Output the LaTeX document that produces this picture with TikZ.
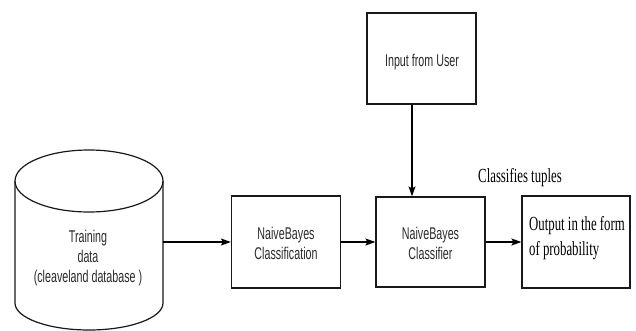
\documentclass[tikz,border=0pt]{standalone}
\usepackage{fontspec}
\usetikzlibrary{arrows.meta}
\newfontfamily\sqsans[FakeStretch=0.63]{Liberation Sans}
\newfontfamily\sqserif[FakeStretch=0.64]{Liberation Serif}
\definecolor{txtgray}{HTML}{2A2A2A}
\begin{document}
\begin{tikzpicture}[x=1pt,y=-1pt,
  box/.style={draw=black!90,line width=1.2pt,rectangle,inner sep=0pt},
  sanstxt/.style={align=center,text=txtgray,font=\sqsans\fontsize{17}{20}\selectfont,inner sep=0pt},
  seriftxt/.style={align=left,text=black,font=\sqserif\fontsize{20}{25}\selectfont,inner sep=0pt},
  arr/.style={line width=1.2pt,draw=black,-{Stealth[length=10pt,width=7pt,inset=2pt]}}]
\useasboundingbox (0,0) rectangle (636,331);
% cylinder
\draw[line width=1.2pt,draw=black!90] (15,181) -- (15,303) arc[start angle=180,end angle=360,x radius=74pt,y radius=27pt] -- (163,181);
\draw[line width=1.2pt,draw=black!90] (89,181) ellipse [x radius=74pt, y radius=31pt];
\node[sanstxt] (train) at (88,258) {Training\\data\\(cleaveland database )};
\coordinate (cylR) at (163,242);
% boxes
\node[box,minimum width=109pt,minimum height=92pt] (nbc) at (286,242) {};
\node[sanstxt] (nbct) at (286,243) {NaiveBayes\\Classification};
\node[box,minimum width=109pt,minimum height=90pt] (nbcl) at (430.5,242) {};
\node[sanstxt] (nbclt) at (430.5,243) {NaiveBayes\\Classifier};
\node[box,minimum width=108pt,minimum height=92pt] (out) at (576,242) {};
\node[seriftxt,anchor=base west] (outt) at (529,255) {Output in the form\\of probability};
\node[box,minimum width=109pt,minimum height=91pt] (inp) at (421.5,58.5) {};
\node[sanstxt] (inpt) at (422,62) {Input from User};
\node[text=black,font=\sqserif\fontsize{20}{24}\selectfont,inner sep=0pt,anchor=base] (cls) at (520,182) {Classifies tuples};
% connectors
\coordinate (ia) at ([xshift=-9.5pt]inp.south);
\draw[arr] (cylR) -- (nbc.west);
\draw[arr] (nbc.east) -- (nbcl.west);
\draw[arr] (nbcl.east) -- (out.west);
\draw[arr] (ia) -- (ia |- nbcl.north);
\end{tikzpicture}
\end{document}
